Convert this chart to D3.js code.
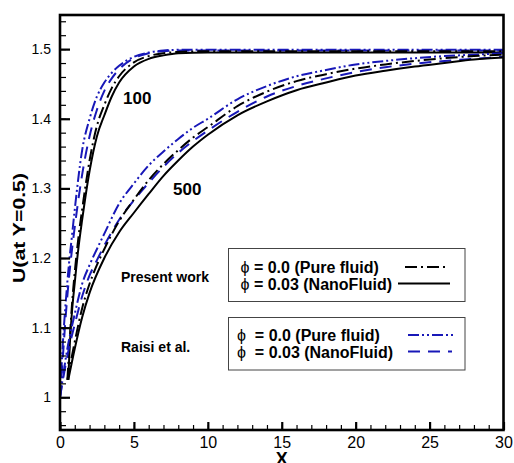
<!DOCTYPE html>
<html>
<head>
<meta charset="utf-8">
<script src="https://cdn.jsdelivr.net/npm/d3@7"></script>
<style>
  body { margin: 0; background: #fff; }
  svg { display: block; font-family: Arial, "Liberation Sans", sans-serif; }
</style>
</head>
<body>
<div id="chart"></div>
<script>
// U at Y=0.5 along the channel, Re = 100 and Re = 500, present work vs Raisi et al.

var xTicks = [0, 5, 10, 15, 20, 25, 30];
var yTicks = [1, 1.1, 1.2, 1.3, 1.4, 1.5];

// Re = 100
var present100Pure = [[0.5,1.025],[0.65,1.08],[0.8,1.13],[1,1.18],[1.25,1.23],[1.5,1.27],[2,1.34],[2.5,1.39],[3,1.42],[3.5,1.444],[4,1.461],[5,1.481],[6,1.49],[7,1.494],[8,1.496],[10,1.497],[20,1.497],[30,1.497]];
var present100Nano = [[0.56,1.025],[0.65,1.07],[0.8,1.12],[1,1.165],[1.25,1.215],[1.5,1.255],[2,1.325],[2.5,1.375],[3,1.405],[3.5,1.432],[4,1.452],[5,1.475],[6,1.486],[7,1.491],[8,1.494],[10,1.495],[20,1.495],[30,1.495]];
var raisi100Pure = [[0,1.0],[0.2,1.08],[0.4,1.14],[0.6,1.19],[0.8,1.23],[1,1.27],[1.5,1.355],[2,1.4],[2.5,1.432],[3,1.452],[3.5,1.466],[4,1.476],[5,1.489],[6,1.495],[7,1.498],[8,1.499],[30,1.499]];
var raisi100Nano = [[0,1.0],[0.2,1.06],[0.4,1.12],[0.6,1.17],[0.8,1.21],[1,1.245],[1.5,1.32],[2,1.375],[2.5,1.413],[3,1.44],[3.5,1.458],[4,1.471],[5,1.487],[6,1.494],[7,1.497],[8,1.498],[30,1.498]];

// Re = 500
var present500Pure = [[0.5,1.025],[1,1.08],[1.5,1.128],[2,1.163],[2.5,1.19],[3,1.213],[4,1.253],[5,1.284],[6,1.312],[7,1.335],[8,1.355],[9,1.373],[10,1.388],[12,1.418],[14,1.439],[16,1.454],[18,1.464],[20,1.472],[22,1.478],[24,1.483],[26,1.487],[28,1.49],[30,1.492]];
var present500Nano = [[0.56,1.025],[1,1.07],[1.5,1.115],[2,1.15],[3,1.2],[4,1.237],[5,1.265],[6,1.292],[7,1.318],[8,1.34],[9,1.36],[10,1.377],[12,1.405],[14,1.425],[16,1.441],[18,1.452],[20,1.462],[22,1.469],[24,1.475],[26,1.48],[28,1.485],[30,1.488]];
var raisi500Pure = [[0,1.0],[0.5,1.07],[1,1.12],[1.5,1.163],[2,1.19],[2.5,1.213],[3,1.235],[4,1.278],[5,1.307],[6,1.333],[7,1.353],[8,1.371],[9,1.387],[10,1.4],[12,1.428],[14,1.447],[16,1.461],[18,1.47],[20,1.478],[22,1.483],[24,1.487],[26,1.49],[28,1.492],[30,1.494]];
var raisi500Nano = [[0,1.0],[0.5,1.06],[1,1.105],[1.5,1.145],[2,1.175],[2.5,1.197],[3,1.218],[4,1.255],[5,1.283],[6,1.308],[7,1.331],[8,1.351],[9,1.368],[10,1.383],[12,1.41],[14,1.432],[16,1.447],[18,1.458],[20,1.467],[22,1.474],[24,1.479],[26,1.483],[28,1.486],[30,1.489]];

var blue = "#1818b8";
var styles = {
    presentPure: { color: "#000", dash: "12,4,2,4" },
    presentNano: { color: "#000", dash: null },
    raisiPure: { color: blue, dash: "11,3,2,3,2,3" },
    raisiNano: { color: blue, dash: "12,8" }
};

var series = [
    { data: raisi100Pure, style: styles.raisiPure },
    { data: raisi100Nano, style: styles.raisiNano },
    { data: present100Pure, style: styles.presentPure },
    { data: present100Nano, style: styles.presentNano },
    { data: raisi500Pure, style: styles.raisiPure },
    { data: raisi500Nano, style: styles.raisiNano },
    { data: present500Pure, style: styles.presentPure },
    { data: present500Nano, style: styles.presentNano }
];

var W = 514, H = 463;
var plot = { left: 60, right: 503.5, top: 15, bottom: 430 };

var svg = d3.select("#chart").append("svg")
    .attr("width", W)
    .attr("height", H);

var x = d3.scaleLinear().domain([0, 30]).range([plot.left, plot.right]);
var y = d3.scaleLinear().domain([0.953, 1.549]).range([plot.bottom, plot.top]);

svg.append("clipPath").attr("id", "clip")
    .append("rect")
    .attr("x", plot.left).attr("y", plot.top)
    .attr("width", plot.right - plot.left).attr("height", plot.bottom - plot.top);

var line = d3.line()
    .x(d => x(d[0]))
    .y(d => y(d[1]))
    .curve(d3.curveMonotoneX);

svg.append("g")
    .attr("clip-path", "url(#clip)")
    .selectAll("path")
    .data(series)
    .enter()
    .append("path")
    .attr("d", d => line(d.data))
    .attr("fill", "none")
    .attr("stroke", d => d.style.color)
    .attr("stroke-width", 2)
    .attr("stroke-dasharray", d => d.style.dash);

// axes (ticks point inward)
var yMinor = d3.range(0.96, 1.545, 0.02);
svg.append("g")
    .attr("transform", "translate(" + plot.left + ",0)")
    .call(d3.axisRight(y).tickValues(yMinor).tickSize(6).tickFormat(""))
    .call(g => g.select(".domain").remove())
    .selectAll("line").attr("stroke-width", 1.2);

var yAxis = svg.append("g")
    .attr("transform", "translate(" + plot.left + ",0)")
    .call(d3.axisRight(y).tickValues(yTicks).tickSize(10).tickFormat(d3.format("")))
    .call(g => g.select(".domain").remove());
yAxis.selectAll("line").attr("stroke-width", 2.2);
yAxis.selectAll("text")
    .attr("x", -9)
    .attr("text-anchor", "end")
    .attr("font-size", "14px")
    .attr("fill", "#000");

var xMinor = d3.range(1, 30, 1);
svg.append("g")
    .attr("transform", "translate(0," + plot.bottom + ")")
    .call(d3.axisTop(x).tickValues(xMinor).tickSize(5).tickFormat(""))
    .call(g => g.select(".domain").remove())
    .selectAll("line").attr("stroke-width", 1.2);

var xAxis = svg.append("g")
    .attr("transform", "translate(0," + plot.bottom + ")")
    .call(d3.axisTop(x).tickValues(xTicks).tickSize(8).tickFormat(d3.format("d")))
    .call(g => g.select(".domain").remove());
xAxis.selectAll("line").attr("stroke-width", 2.2);
xAxis.selectAll("text")
    .attr("y", 18)
    .attr("dy", 0)
    .attr("font-size", "16px")
    .attr("fill", "#000");

// frame
svg.append("rect")
    .attr("x", plot.left).attr("y", plot.top)
    .attr("width", plot.right - plot.left).attr("height", plot.bottom - plot.top)
    .attr("fill", "none")
    .attr("stroke", "#000")
    .attr("stroke-width", 2.6);

// axis titles
svg.append("text")
    .attr("transform", "translate(25,228) rotate(-90)")
    .attr("text-anchor", "middle")
    .attr("font-size", "17px")
    .attr("font-weight", "bold")
    .attr("textLength", 110)
    .attr("lengthAdjust", "spacingAndGlyphs")
    .text("U(at Y=0.5)");

svg.append("text")
    .attr("x", (plot.left + plot.right) / 2)
    .attr("y", 465)
    .attr("text-anchor", "middle")
    .attr("font-size", "18px")
    .attr("font-weight", "bold")
    .text("X");

// Re labels
svg.append("text").attr("x", 123).attr("y", 103.5)
    .attr("font-size", "17px").attr("font-weight", "bold").text("100");
svg.append("text").attr("x", 173).attr("y", 195)
    .attr("font-size", "17px").attr("font-weight", "bold").text("500");

// legends
var legends = [
    { title: "Present work", titleY: 281.5, box: [228.5, 248.5, 236.5, 53], textX: 240.5, gap: false,
      rows: [{ label: "0.0 (Pure fluid)", style: styles.presentPure, y: 273, x1: 405, x2: 448 },
             { label: "0.03 (NanoFluid)", style: styles.presentNano, y: 289.5, x1: 398, x2: 450 }] },
    { title: "Raisi et al.", titleY: 351.5, box: [228.5, 317.5, 236.5, 52.5], textX: 237, gap: true,
      rows: [{ label: "0.0 (Pure fluid)", style: styles.raisiPure, y: 341, x1: 408, x2: 453 },
             { label: "0.03 (NanoFluid)", style: styles.raisiNano, y: 357.5, x1: 408, x2: 452 }] }
];

legends.forEach(function(lg){
    svg.append("text")
        .attr("x", 121).attr("y", lg.titleY)
        .attr("font-size", "14px").attr("font-weight", "bold")
        .text(lg.title);

    svg.append("rect")
        .attr("x", lg.box[0]).attr("y", lg.box[1])
        .attr("width", lg.box[2]).attr("height", lg.box[3])
        .attr("fill", "#fff")
        .attr("stroke", "#444")
        .attr("stroke-width", 1);

    lg.rows.forEach(function(r){
        var t = svg.append("text")
            .attr("x", lg.textX).attr("y", r.y)
            .attr("font-size", "16px").attr("font-weight", "bold")
            .attr("xml:space", "preserve")
            .style("white-space", "pre");
        t.append("tspan").attr("font-weight", "normal").text("\u03d5");
        t.append("tspan").text((lg.gap ? "  = " : " = ") + r.label);

        svg.append("line")
            .attr("x1", r.x1).attr("x2", r.x2)
            .attr("y1", r.y - 6).attr("y2", r.y - 6)
            .attr("stroke", r.style.color)
            .attr("stroke-width", 2)
            .attr("stroke-dasharray", r.style.dash);
    });
});
</script>
</body>
</html>
